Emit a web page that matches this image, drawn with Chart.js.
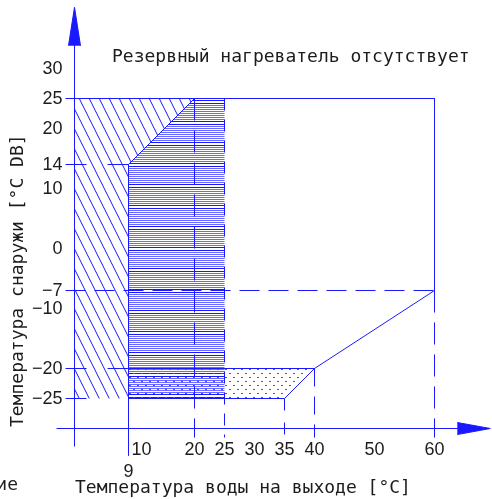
<!DOCTYPE html>
<html>
<head>
<meta charset="utf-8">
<script src="https://cdn.jsdelivr.net/npm/chart.js@4.4.1/dist/chart.umd.min.js"></script>
<style>
  body { margin: 0; background: #fff; }
  #wrap { width: 492px; height: 499px; }
</style>
</head>
<body>
<div id="wrap"><canvas id="zone" width="492" height="499"></canvas></div>
<script>
// tick values on both axes
const xTicks = [10, 20, 25, 30, 35, 40, 50, 60];
const xExtraTick = 9;
const yTicks = [30, 25, 20, 14, 10, 0, -7, -10, -20, -25];

// operating zones (water outlet temp, outdoor temp)
const hatchZone = [[0, 25], [20, 25], [9, 14], [9, -25], [0, -25]];
const stripeZone = [[9, 14], [20, 25], [25, 25], [25, -25], [9, -25]];
const dotZone = [[9, -20], [40, -20], [35, -25], [9, -25]];

// outlines
const envelope = [[-1.5, 25], [60, 25], [60, -7], [40, -20]];
const lowerEdge = [[40, -20], [35, -25], [9, -25]];
const edgeMinus20 = [[5.5, -20], [40, -20]];
const diagEdge = [[9, 14], [20, 25]];
const line9 = [[9, 14], [9, -34.5]];

// dashed guides
const guideMinus7 = [[-1.5, -7], [60, -7]];
const guide20 = [[20, 25], [20, -31.5]];
const guide25 = [[25, 25], [25, -31.5]];
const guide35 = [[35, -25], [35, -31.5]];
const guide40 = [[40, -20], [40, -31.5]];
const guide60 = [[60, -7], [60, -31.5]];

// small stubs near the vertical axis
const stub14a = [[-1.5, 14], [2, 14]];
const stub14b = [[5.5, 14], [9, 14]];
const stubM20 = [[-1.5, -20], [2, -20]];
const stubM25 = [[-1.5, -25], [2, -25]];

// axes and arrow heads
const yAxisLine = [[0, -33], [0, 34]];
const xAxisLine = [[-3, -30], [64, -30]];
const yArrow = [[-1, 33.8], [0, 40.2], [1, 33.8]];
const xArrow = [[63.8, -29], [69.3, -30], [63.8, -31]];

const title = 'Резервный нагреватель отсутствует';
const xTitle = 'Температура воды на выходе [°C]';
const yTitle = 'Температура снаружи [°C DB]';
const cornerText = 'ие';

const BLUE = 'rgb(25,25,255)';
const INK = '#1c1c1c';

function pts(arr) {
    return arr.map(p => ({ x: p[0], y: p[1] }));
}

// fill patterns
function makeTile(w, h, draw) {
    const c = document.createElement('canvas');
    c.width = w; c.height = h;
    const g = c.getContext('2d');
    draw(g);
    return g.createPattern(c, 'repeat');
}

const diagPattern = makeTile(10, 20, g => {
    g.strokeStyle = BLUE;
    g.lineWidth = 1;
    for (let c = -10; c <= 10; c += 10) {
        g.beginPath();
        g.moveTo(c - 5, -10);
        g.lineTo(c + 15, 30);
        g.stroke();
    }
});

const stripePattern = makeTile(4, 21, g => {
    g.fillStyle = 'rgb(105,105,255)';
    for (let y = 0; y <= 14; y += 2) g.fillRect(0, y, 4, 1);
    g.fillStyle = BLUE;
    g.fillRect(0, 16, 4, 1);
    g.fillRect(0, 19, 4, 1);
});

const dotPattern = makeTile(8, 8, g => {
    g.fillStyle = 'rgb(70,70,255)';
    g.fillRect(1, 1, 2, 1);
    g.fillRect(5, 5, 2, 1);
});

function area(arr, pattern, order) {
    return {
        data: pts(arr), fill: 'shape', backgroundColor: pattern,
        borderWidth: 0, borderColor: 'rgba(0,0,0,0)', pointRadius: 0, order: order
    };
}

function edge(arr, dash) {
    return {
        data: pts(arr), fill: false, borderColor: BLUE, borderWidth: 1,
        borderDash: dash || [], pointRadius: 0, tension: 0, order: 1
    };
}

function arrow(arr) {
    return {
        data: pts(arr), fill: 'shape', backgroundColor: BLUE,
        borderColor: BLUE, borderWidth: 1, pointRadius: 0, order: 0
    };
}

// labels and titles, placed through the scales
const labelPlugin = {
    id: 'labels',
    afterDraw(chart) {
        const ctx = chart.ctx;
        const sx = chart.scales.x, sy = chart.scales.y;
        const x0 = sx.getPixelForValue(0);
        const yAxisY = sy.getPixelForValue(-30);
        ctx.save();
        ctx.fillStyle = INK;

        ctx.font = '18px "Liberation Sans", Arial, sans-serif';
        ctx.textAlign = 'right';
        ctx.textBaseline = 'middle';
        yTicks.forEach(v => {
            const txt = v < 0 ? '\u2212' + Math.abs(v) : String(v);
            ctx.fillText(txt, x0 - 12, sy.getPixelForValue(v) + 1);
        });

        ctx.textAlign = 'center';
        ctx.textBaseline = 'alphabetic';
        xTicks.forEach(v => {
            const shift = v === 10 ? 7 : 0;
            ctx.fillText(String(v), sx.getPixelForValue(v) + shift, yAxisY + 26);
        });
        ctx.fillText(String(xExtraTick), sx.getPixelForValue(xExtraTick), yAxisY + 48);

        ctx.font = '18px "DejaVu Sans Mono", monospace';
        ctx.textAlign = 'left';
        ctx.fillText(title, 112, 62);
        ctx.fillText(xTitle, 75, 493);
        ctx.textAlign = 'right';
        ctx.fillText(cornerText, 18, 490);

        ctx.translate(23, 427);
        ctx.rotate(-Math.PI / 2);
        ctx.textAlign = 'left';
        ctx.fillText(yTitle, 0, 0);
        ctx.restore();
    }
};

new Chart(document.getElementById('zone'), {
    type: 'line',
    data: {
        datasets: [
            area(hatchZone, diagPattern, 10),
            area(stripeZone, stripePattern, 10),
            area(dotZone, dotPattern, 9),
            edge(envelope),
            edge(lowerEdge),
            edge(edgeMinus20),
            edge(diagEdge),
            edge(line9),
            edge(guideMinus7, [20, 9]),
            edge(guide20, [22, 10]),
            edge(guide25, [12, 9]),
            edge(guide35, [12, 12]),
            edge(guide40, [18, 10]),
            edge(guide60, [22, 10]),
            edge(stub14a),
            edge(stub14b),
            edge(stubM20),
            edge(stubM25),
            edge(yAxisLine),
            edge(xAxisLine),
            arrow(yArrow),
            arrow(xArrow)
        ]
    },
    options: {
        responsive: false,
        animation: false,
        layout: { padding: 0 },
        plugins: {
            legend: { display: false },
            tooltip: { enabled: false }
        },
        events: [],
        scales: {
            // 6 px per degree, origin at (74.5, 98.5) for 25 °C
            x: { type: 'linear', display: false, min: -74.5 / 6, max: (492 - 74.5) / 6 },
            y: { type: 'linear', display: false, min: 25 - (499 - 98.5) / 6, max: 25 + 98.5 / 6 }
        }
    },
    plugins: [labelPlugin]
});
</script>
</body>
</html>
